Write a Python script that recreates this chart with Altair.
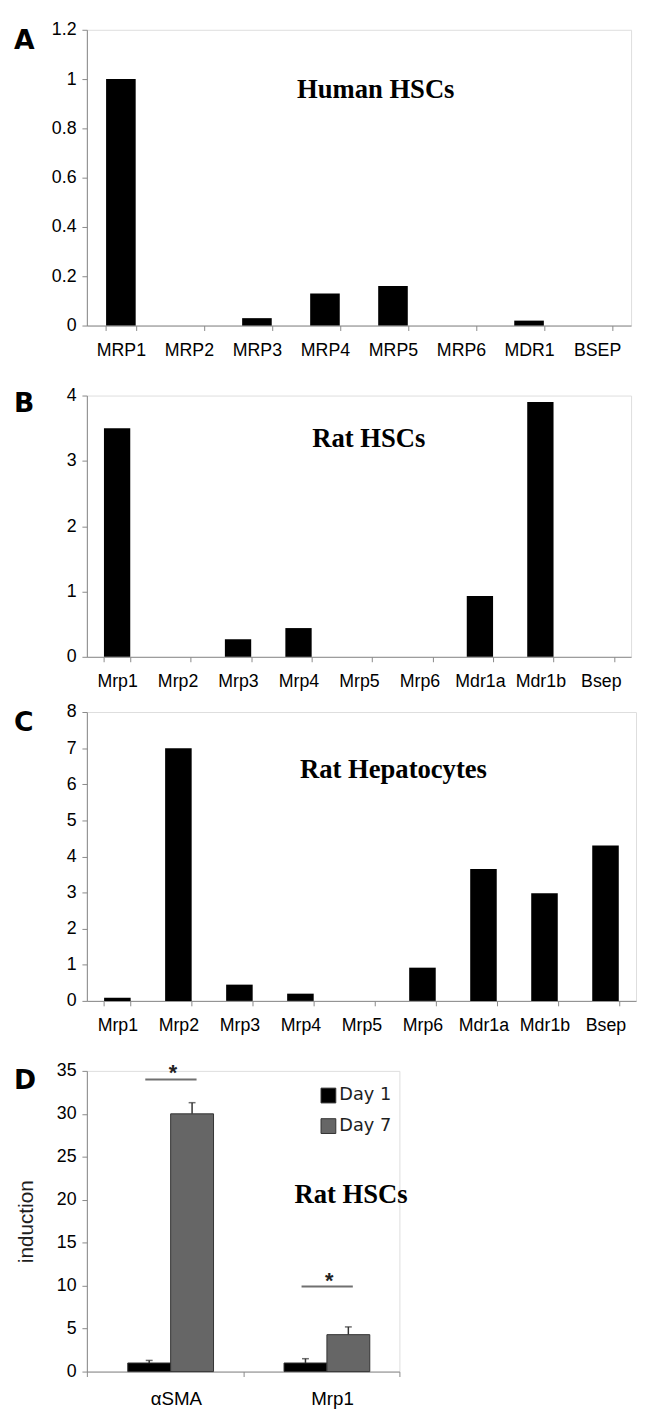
import altair as alt
import pandas as pd

# ---------------- data ----------------
A_cats = ["MRP1", "MRP2", "MRP3", "MRP4", "MRP5", "MRP6", "MDR1", "BSEP"]
A_vals = [1.0, 0.0, 0.03, 0.13, 0.16, 0.0, 0.02, 0.0]
A_ticks = [0, 0.2, 0.4, 0.6, 0.8, 1, 1.2]

B_cats = ["Mrp1", "Mrp2", "Mrp3", "Mrp4", "Mrp5", "Mrp6", "Mdr1a", "Mdr1b", "Bsep"]
B_vals = [3.5, 0.0, 0.27, 0.44, 0.0, 0.0, 0.93, 3.9, 0.0]
B_ticks = [0, 1, 2, 3, 4]

C_cats = ["Mrp1", "Mrp2", "Mrp3", "Mrp4", "Mrp5", "Mrp6", "Mdr1a", "Mdr1b", "Bsep"]
C_vals = [0.09, 7.0, 0.45, 0.2, 0.0, 0.92, 3.65, 2.98, 4.3]
C_ticks = [0, 1, 2, 3, 4, 5, 6, 7, 8]

D_groups = ["αSMA", "Mrp1"]
D_series = ["Day 1", "Day 7"]
D_day1 = [1.0, 1.0]
D_day7 = [30.0, 4.3]
D_err1 = [0.3, 0.5]
D_err7 = [1.3, 0.9]
D_ticks = [0, 5, 10, 15, 20, 25, 30, 35]
D_sig = [34.0, 9.9]

# ---------------- style ----------------
AX = "#d4d4d4"
LAB = "#1e1e1e"
SANS = "DejaVu Sans"
SERIF = "Liberation Serif"

H_A, H_B, H_C, H_D = 300, 265, 293, 305
EXT_A, EXT_B, EXT_C = 60, 45, 60
GAP_TOP = 11  # top extent of each panel (tick label half height)


def letter_layer(letter, y):
    return alt.Chart(pd.DataFrame({"t": [letter]})).mark_text(
        font=SANS, fontSize=27, fontWeight="bold", color="#000",
        align="left", baseline="alphabetic"
    ).encode(text="t:N", x=alt.value(-74), y=alt.value(y))


def title_layer(title, x, y):
    return alt.Chart(pd.DataFrame({"t": [title]})).mark_text(
        font=SERIF, fontSize=27, fontWeight="bold", color="#000",
        align="center", baseline="alphabetic"
    ).encode(text="t:N", x=alt.value(x), y=alt.value(y))


def bar_panel(cats, vals, ticks, ymax, width, height, title, tx, ty, letter, ly, xext):
    df = pd.DataFrame({"cat": cats, "val": vals})
    bars = alt.Chart(df).mark_bar(color="#000").encode(
        x=alt.X("cat:N", sort=cats,
                scale=alt.Scale(paddingInner=0.565, paddingOuter=0.2825),
                axis=alt.Axis(title="", labelAngle=0, tickBand="extent",
                              tickSize=5, labelPadding=11, labelFontSize=18,
                              labelOverlap=False,
                              minExtent=xext, maxExtent=xext)),
        y=alt.Y("val:Q", scale=alt.Scale(domain=[0, ymax], nice=False),
                axis=alt.Axis(title="", values=ticks, format="~g", grid=False,
                              tickSize=5, labelPadding=6, labelFontSize=18)),
    )
    return alt.layer(bars, title_layer(title, tx, ty), letter_layer(letter, ly)).properties(
        width=width, height=height
    )


pA = bar_panel(A_cats, A_vals, A_ticks, 1.2, 552, H_A, "Human HSCs", 293, 69, "A", 19, EXT_A)
pB = bar_panel(B_cats, B_vals, B_ticks, 4, 552, H_B, "Rat HSCs", 286, 52, "B", 17, EXT_B)
pC = bar_panel(C_cats, C_vals, C_ticks, 8, 557, H_C, "Rat Hepatocytes", 311, 67, "C", 19, EXT_C)

# offset of panel D's plot origin below panel A's (legend lives at the top level)
D_top = H_A + EXT_A + GAP_TOP + H_B + EXT_B + GAP_TOP + H_C + EXT_C + GAP_TOP

# ---------------- panel D ----------------
ddf = pd.DataFrame({
    "grp": D_groups + D_groups,
    "day": [D_series[0]] * len(D_groups) + [D_series[1]] * len(D_groups),
    "val": D_day1 + D_day7,
    "err": D_err1 + D_err7,
})
sdf = pd.DataFrame({"grp": D_groups, "y": D_sig})

xD = alt.X("grp:N", sort=D_groups,
           scale=alt.Scale(paddingInner=0, paddingOuter=0),
           axis=alt.Axis(title="", labelAngle=0, tickBand="extent", tickSize=5,
                         labelPadding=13, labelFontSize=19, labelOffset=11))
xoD = alt.XOffset("day:N", sort=D_series,
                  scale=alt.Scale(paddingInner=0, paddingOuter=0.822, align=0.58))
yD = alt.Y("val:Q", scale=alt.Scale(domain=[0, 35], nice=False),
           axis=alt.Axis(title="induction", values=D_ticks, grid=False, tickSize=5,
                         labelPadding=6, labelFontSize=18, titleFont="Liberation Sans",
                         titleFontSize=21, titleFontWeight="normal", titleColor=LAB,
                         titlePadding=20))

baseD = alt.Chart(ddf).transform_calculate(top="datum.val + datum.err")
barsD = baseD.mark_bar(stroke="#333", strokeWidth=1).encode(
    x=xD, xOffset=xoD, y=yD,
    color=alt.Color("day:N", sort=D_series,
                    scale=alt.Scale(domain=D_series, range=["#000000", "#666666"]),
                    legend=alt.Legend(title="", orient="none", legendX=236,
                                      legendY=D_top + 16,
                                      symbolType="square", symbolSize=225,
                                      symbolStrokeColor="#333", symbolStrokeWidth=1,
                                      labelFont=SANS, labelFontSize=18, labelColor=LAB,
                                      labelOffset=2, rowPadding=11, padding=0)),
)
stemD = baseD.mark_rule(color="#333", strokeWidth=1.5).encode(
    x=xD, xOffset=xoD, y="val:Q", y2="top:Q")
capD = baseD.mark_tick(orient="horizontal", size=7, thickness=1.5, color="#333").encode(
    x=xD, xOffset=xoD, y="top:Q")
lineD = alt.Chart(sdf).mark_tick(orient="horizontal", size=52, thickness=2,
                                 color="#333", xOffset=6).encode(x=xD, y="y:Q")
starD = alt.Chart(sdf).mark_text(text="*", font="Liberation Sans", fontSize=22,
                                 fontWeight="bold", color="#222", dx=8, dy=1,
                                 baseline="alphabetic").encode(x=xD, y="y:Q")

pD = alt.layer(barsD, stemD, capD, lineD, starD,
               title_layer("Rat HSCs", 268, 134), letter_layer("D", 18)).properties(
    width=317, height=H_D)

chart = alt.vconcat(pA, pB, pC, pD, spacing=0).properties(
    padding={"left": 5, "top": 2, "right": 0, "bottom": 0}
).configure_view(stroke=None).configure_axis(
    labelFont=SANS, labelColor=LAB, domainColor=AX, tickColor=AX, domainWidth=1
).configure(background="white")

chart.save("out.html", embed_options={"renderer": "svg", "actions": False})
